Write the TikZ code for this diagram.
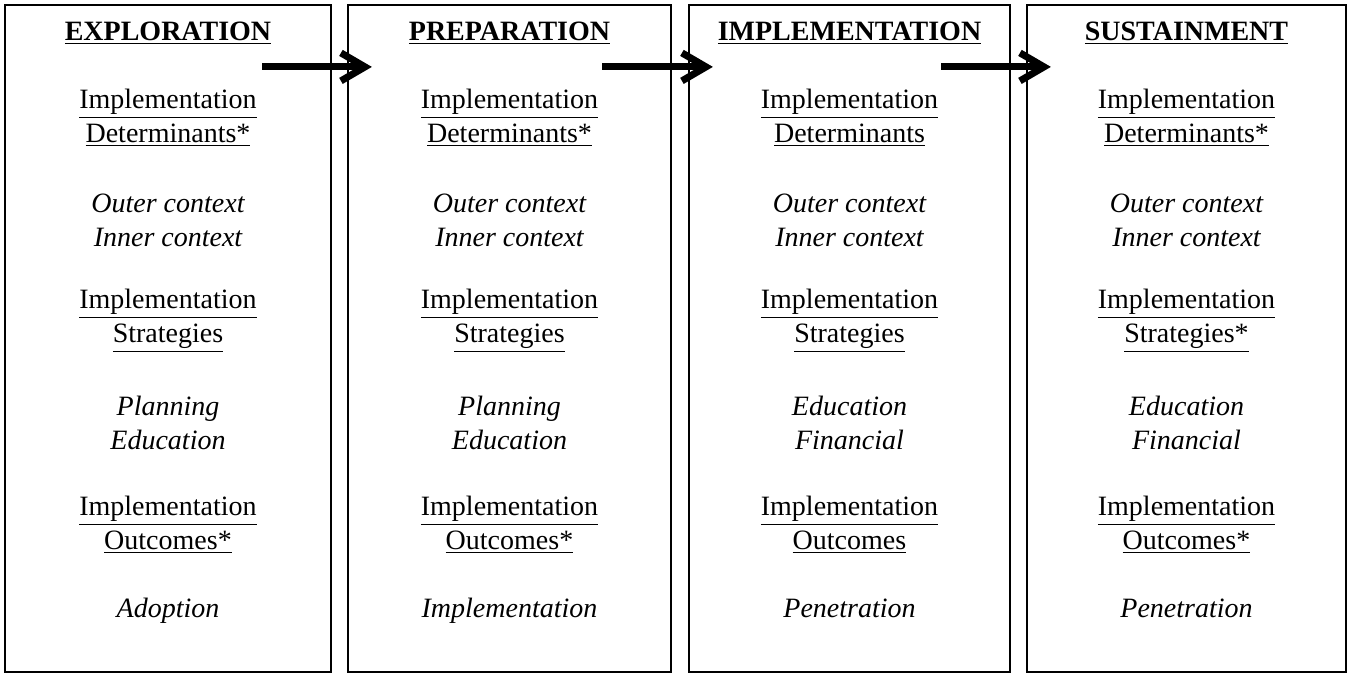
\documentclass[tikz,border=0pt]{standalone}
\usepackage{fontspec}
\setmainfont{Liberation Serif}
\usetikzlibrary{positioning,arrows.meta}

\begin{document}
\begin{tikzpicture}[
    x=0.5pt,y=-0.5pt,
    stage/.style={
        draw,
        line width=1.1pt,
        minimum height=333.5pt,
        inner sep=0pt
    },
    title/.style={
        font=\bfseries\fontsize{14}{17}\selectfont
    },
    head/.style={
        align=center,
        font=\fontsize{14}{17}\selectfont
    },
    item/.style={
        align=center,
        font=\itshape\fontsize{14}{17}\selectfont
    },
    flow/.style={
        line width=3.5pt,
        -{Straight Barb[length=12pt,width=14pt]}
    }
    ]
\useasboundingbox (0,0) rectangle (1351,675);
% the four stages
\foreach \i/\cx/\w/\name/\dline/\sline/\sa/\sb/\oline/\res in {
    1/168/326/EXPLORATION/Determinants*/Strategies/Planning/Education/Outcomes*/Adoption,
    2/509.5/323/PREPARATION/Determinants*/Strategies/Planning/Education/Outcomes*/Implementation,
    3/849.5/321/IMPLEMENTATION/Determinants/Strategies/Education/Financial/Outcomes/Penetration,
    4/1186.5/319/SUSTAINMENT/Determinants*/Strategies*/Education/Financial/Outcomes*/Penetration}
{
    \node[stage, minimum width=\w*0.5pt] (box\i) at (\cx,338.5) {};
    \node[title, anchor=base] (title\i) at (\cx,40) {\underline{\name}};
    \node[head] (det\i) at (\cx,118) {\underline{Implementation}\\\underline{\dline}};
    \node[item] (ctx\i) at (\cx,220) {Outer context\\Inner context};
    \node[head] (str\i) at (\cx,321) {\underline{Implementation}\\\underline{\sline}};
    \node[item] (tac\i) at (\cx,423) {\sa\\\sb};
    \node[head] (out\i) at (\cx,525) {\underline{Implementation}\\\underline{\oline}};
    \node[item, anchor=base] (res\i) at (\cx,617) {\res};
}

% arrows between stages
\foreach \i [evaluate=\i as \j using int(\i+1)] in {1,2,3}
{
    \path (box\i.north east) ++(-70,63) coordinate (from\i);
    \path (box\j.north west) ++(25,63) coordinate (to\i);
    \draw[flow] (from\i) -- (to\i);
}
\end{tikzpicture}
\end{document}
